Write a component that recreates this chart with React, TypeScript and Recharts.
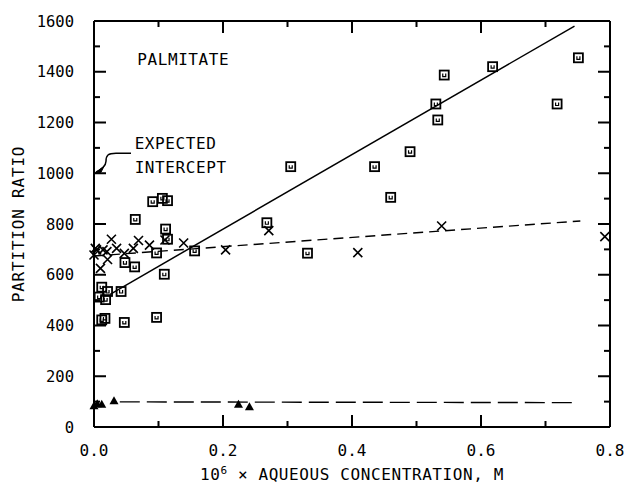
import React from "react";
import { ScatterChart, Scatter, XAxis, YAxis, ReferenceLine } from "recharts";

const FONT = "'DejaVu Sans Mono', monospace";

// [x (10^6 M), partition ratio]
const squarePoints = [
  [0.012, 551], [0.021, 534], [0.042, 534], [0.008, 512], [0.018, 502],
  [0.017, 428], [0.012, 422], [0.047, 412], [0.097, 432],
  [0.048, 648], [0.063, 631], [0.064, 818], [0.097, 686], [0.109, 602],
  [0.111, 780], [0.114, 740], [0.091, 888], [0.106, 901], [0.114, 892],
  [0.156, 694], [0.268, 805], [0.305, 1026], [0.331, 685], [0.435, 1026],
  [0.46, 905], [0.49, 1085], [0.53, 1273], [0.533, 1210], [0.543, 1387],
  [0.618, 1420], [0.718, 1273], [0.751, 1455],
];

const crossPoints = [
  [0.0, 678], [0.002, 704], [0.004, 698], [0.014, 698], [0.01, 625],
  [0.021, 660], [0.02, 691], [0.027, 740], [0.035, 704], [0.047, 684],
  [0.061, 704], [0.069, 735], [0.086, 717], [0.11, 737], [0.139, 725],
  [0.204, 698], [0.271, 774], [0.409, 687], [0.539, 792], [0.792, 750],
];

const trianglePoints = [
  [0.0, 84], [0.005, 92], [0.012, 90], [0.031, 103], [0.224, 90], [0.241, 80],
];

const fitLine = [[0.025, 523], [0.745, 1580]];
const upperDashed = [[0.0, 674], [0.754, 812]];
const lowerDashed = [[0.04, 99], [0.745, 96]];

const xTicks = [0, 0.1, 0.2, 0.3, 0.4, 0.5, 0.6, 0.7, 0.8];
const yTicks = [0, 100, 200, 300, 400, 500, 600, 700, 800, 900, 1000, 1100, 1200, 1300, 1400, 1500, 1600];

// annotation text and the arrow pointing at the expected intercept
const annotations = [
  { x: 0.067, y: 1450, text: "PALMITATE" },
  { x: 0.063, y: 1119, text: "EXPECTED" },
  { x: 0.063, y: 1025, text: "INTERCEPT" },
  { x: 0, y: 1000, text: "" },
];

const toObjs = (pts: number[][]) => pts.map(([x, y]) => ({ x, y }));
const isMajorY = (v: number) => v % 200 === 0;
const isMajorX = (v: number) => Math.round(v * 10) % 2 === 0;

// inward tick marks on all four sides of the frame
const frameTicks = [
  ...yTicks.map((v) => ({ x: 0, y: v, side: "left" })),
  ...yTicks.map((v) => ({ x: 0.8, y: v, side: "right" })),
  ...xTicks.map((v) => ({ x: v, y: 0, side: "bottom" })),
  ...xTicks.map((v) => ({ x: v, y: 1600, side: "top" })),
];

const LeftTick = (props: any) => {
  const { x, y, payload } = props;
  const v = payload.value;
  if (!isMajorY(v)) return <g />;
  return (
    <text x={x} y={y} dy="0.36em" textAnchor="end" fontFamily={FONT} fontSize={15.5} fill="#000">
      {v}
    </text>
  );
};

const BottomTick = (props: any) => {
  const { x, y, payload } = props;
  const v = payload.value;
  if (!isMajorX(v)) return <g />;
  return (
    <text x={x} y={y} dy="0.71em" textAnchor="middle" fontFamily={FONT} fontSize={16} fill="#000">
      {v.toFixed(1)}
    </text>
  );
};

const TW = 2;
const FrameTick = (props: any) => {
  const { cx, cy, payload } = props;
  const side = payload.side;
  if (side === "left" || side === "right") {
    const len = isMajorY(payload.y) ? 12 : 6;
    const x0 = side === "left" ? cx : cx - len;
    return <rect x={x0} y={cy - TW / 2} width={len} height={TW} fill="#000" />;
  }
  const len = isMajorX(payload.x) ? 12 : 6;
  const y0 = side === "top" ? cy : cy - len;
  return <rect x={cx - TW / 2} y={y0} width={TW} height={len} fill="#000" />;
};

const SquareMark = (props: any) => {
  const { cx, cy } = props;
  return (
    <g>
      <rect x={cx - 4.5} y={cy - 4.5} width={9} height={9} fill="none" stroke="#000" strokeWidth={1.8} />
      <path d={`M${cx - 1.5},${cy - 1.5}v3h3v-3`} fill="none" stroke="#000" strokeWidth={1.2} />
    </g>
  );
};

const CrossMark = (props: any) => {
  const { cx, cy } = props;
  const s = 4.5;
  return (
    <path
      d={`M${cx - s},${cy - s}L${cx + s},${cy + s}M${cx - s},${cy + s}L${cx + s},${cy - s}`}
      stroke="#000"
      strokeWidth={1.6}
      fill="none"
    />
  );
};

const TriangleMark = (props: any) => {
  const { cx, cy } = props;
  return <path d={`M${cx},${cy - 4.5}L${cx + 4.5},${cy + 3.5}L${cx - 4.5},${cy + 3.5}Z`} fill="#000" />;
};

const Annotation = (props: any) => {
  const { cx, cy, payload } = props;
  if (payload.text) {
    return (
      <text x={cx} y={cy} dy="0.36em" fontFamily={FONT} fontSize={16} fill="#000" letterSpacing={0.6}>
        {payload.text}
      </text>
    );
  }
  return (
    <g>
      <path
        d={`M${cx + 37},${cy - 20}L${cx + 22},${cy - 20}C${cx + 14},${cy - 20} ${cx + 12},${cy - 18} ${cx + 12},${cy - 12}C${cx + 12},${cy - 7} ${cx + 7},${cy - 4} ${cx + 2},${cy - 1}`}
        fill="none"
        stroke="#000"
        strokeWidth={1.5}
      />
      <path d={`M${cx + 1},${cy}L${cx + 10},${cy - 7}L${cx + 7},${cy - 1}Z`} fill="#000" stroke="#000" strokeWidth={1} />
    </g>
  );
};

const YTitle = (props: any) => {
  const vb = props.viewBox;
  const cy = vb.y + vb.height / 2;
  return (
    <text x={18} y={cy} transform={`rotate(-90, 18, ${cy})`} dy="0.36em" textAnchor="middle" fontFamily={FONT} fontSize={16} fill="#000" letterSpacing={0.8}>
      PARTITION RATIO
    </text>
  );
};

const XTitle = (props: any) => {
  const vb = props.viewBox;
  const cx = vb.x + vb.width / 2;
  return (
    <text x={cx} y={vb.y + 53} textAnchor="middle" fontFamily={FONT} fontSize={16} fill="#000" letterSpacing={0.6}>
      <tspan>10</tspan>
      <tspan dy={-6} fontSize={11}>6</tspan>
      <tspan dy={6}> × AQUEOUS CONCENTRATION, M</tspan>
    </text>
  );
};

export default function App() {
  return (
    <div style={{ position: "absolute", left: 0, top: 0 }}>
      <ScatterChart width={626} height={484} margin={{ top: 21, right: 16, bottom: 0, left: 0 }}>
        <XAxis
          dataKey="x"
          type="number"
          domain={[0, 0.8]}
          ticks={xTicks}
          interval={0}
          height={57}
          tickLine={false}
          tickMargin={12}
          tick={<BottomTick />}
          axisLine={{ stroke: "#000", strokeWidth: 2 }}
          label={<XTitle />}
        />
        <YAxis
          dataKey="y"
          type="number"
          domain={[0, 1600]}
          ticks={yTicks}
          interval={0}
          width={94}
          tickLine={false}
          tickMargin={14}
          tick={<LeftTick />}
          axisLine={{ stroke: "#000", strokeWidth: 2 }}
          label={<YTitle />}
        />
        <ReferenceLine segment={toObjs(fitLine)} stroke="#000" strokeWidth={1.5} ifOverflow="visible" />
        <ReferenceLine
          segment={toObjs(upperDashed)}
          stroke="#000"
          strokeWidth={1.4}
          strokeDasharray="10 6"
          ifOverflow="visible"
        />
        <ReferenceLine
          segment={toObjs(lowerDashed)}
          stroke="#000"
          strokeWidth={1.4}
          strokeDasharray="20 7"
          ifOverflow="visible"
        />
        <ReferenceLine x={0.8} stroke="#000" strokeWidth={2} ifOverflow="visible" />
        <ReferenceLine y={1600} stroke="#000" strokeWidth={2} ifOverflow="visible" />
        <ReferenceLine segment={[{ x: 0, y: 1600 }, { x: 0.8, y: 1600 }]} stroke="#000" strokeWidth={2} ifOverflow="visible" />
        <Scatter data={toObjs(squarePoints)} shape={<SquareMark />} isAnimationActive={false} />
        <Scatter data={toObjs(crossPoints)} shape={<CrossMark />} isAnimationActive={false} />
        <Scatter data={toObjs(trianglePoints)} shape={<TriangleMark />} isAnimationActive={false} />
        <Scatter data={annotations} shape={<Annotation />} isAnimationActive={false} />
        <Scatter data={frameTicks} shape={<FrameTick />} isAnimationActive={false} />
      </ScatterChart>
    </div>
  );
}
